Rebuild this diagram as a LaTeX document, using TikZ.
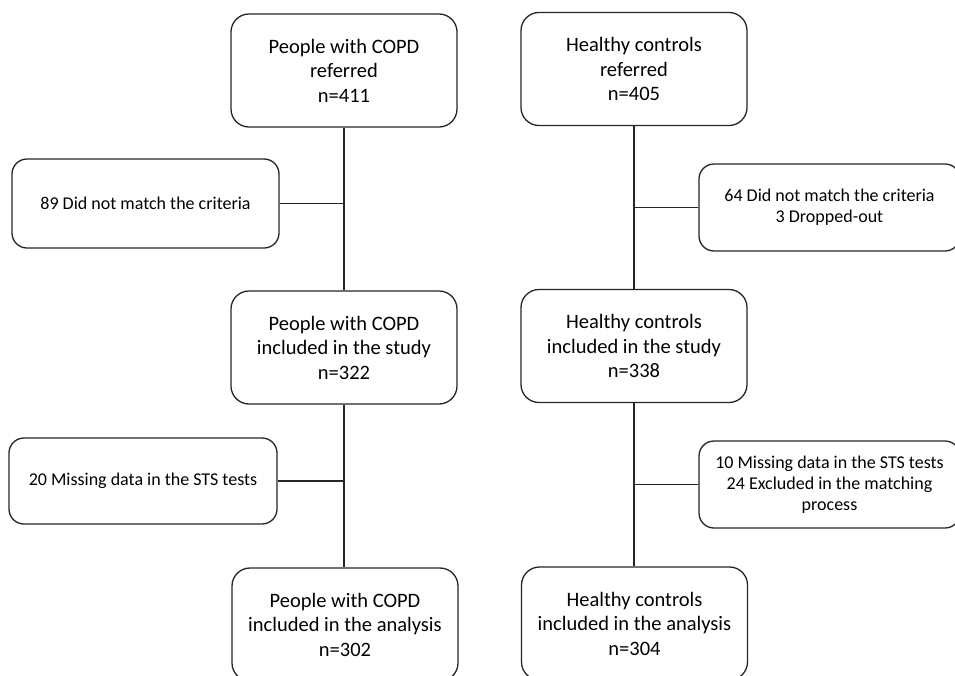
\documentclass[tikz,border=0pt]{standalone}
\usepackage{fontspec}
\setmainfont{Carlito}
\begin{document}
\begin{tikzpicture}[x=1pt,y=-1pt,
  mainbox/.style={draw=black!85, line width=1.3pt, rounded corners=18pt,
    minimum width=226pt, minimum height=113pt, align=center, inner sep=0pt,
    font=\fontsize{20.5}{24.5}\selectfont},
  sidebox/.style={draw=black!85, line width=1.3pt, rounded corners=15pt,
    minimum height=87pt, align=center, inner sep=0pt,
    font=\fontsize{18}{21}\selectfont},
  link/.style={draw=black!85, line width=1.3pt}]
\clip (0,0) rectangle (955,675);
\fill[white] (0,0) rectangle (955,675);
% left column
\node[mainbox] (m1) at (344,70.5) {People with COPD\\referred\\n=411};
\node[mainbox] (m2) at (344,347.5) {People with COPD\\included in the study\\n=322};
\node[mainbox] (m3) at (345,624.5) {People with COPD\\included in the analysis\\n=302};
\node[sidebox, minimum width=267pt, minimum height=89pt] (s1) at (145.5,203.5) {89 Did not match the criteria};
\node[sidebox, minimum width=268pt, minimum height=86pt] (s2) at (143,481) {20 Missing data in the STS tests};
% right column
\node[mainbox] (h1) at (634,69) {Healthy controls\\referred\\n=405};
\node[mainbox] (h2) at (634,346) {Healthy controls\\included in the study\\n=338};
\node[mainbox] (h3) at (634.5,623.5) {Healthy controls\\included in the analysis\\n=304};
\node[sidebox, minimum width=261pt] (r1) at (829.5,207.5) {64 Did not match the criteria\\3 Dropped-out};
\node[sidebox, minimum width=261pt] (r2) at (829.5,484.5) {10 Missing data in the STS tests\\24 Excluded in the matching\\process};
% connectors
\draw[link] (m1.south) -- (m1.south |- m2.north);
\draw[link] (m2.south) -- (m2.south |- m3.north);
\draw[link] (s1.east) -- (s1.east -| m1.south);
\draw[link] (s2.east) -- (s2.east -| m2.south);
\draw[link] (h1.south) -- (h1.south |- h2.north);
\draw[link] (h2.south) -- (h2.south |- h3.north);
\draw[link] (r1.west) -- (r1.west -| h1.south);
\draw[link] (r2.west) -- (r2.west -| h2.south);
\end{tikzpicture}
\end{document}
